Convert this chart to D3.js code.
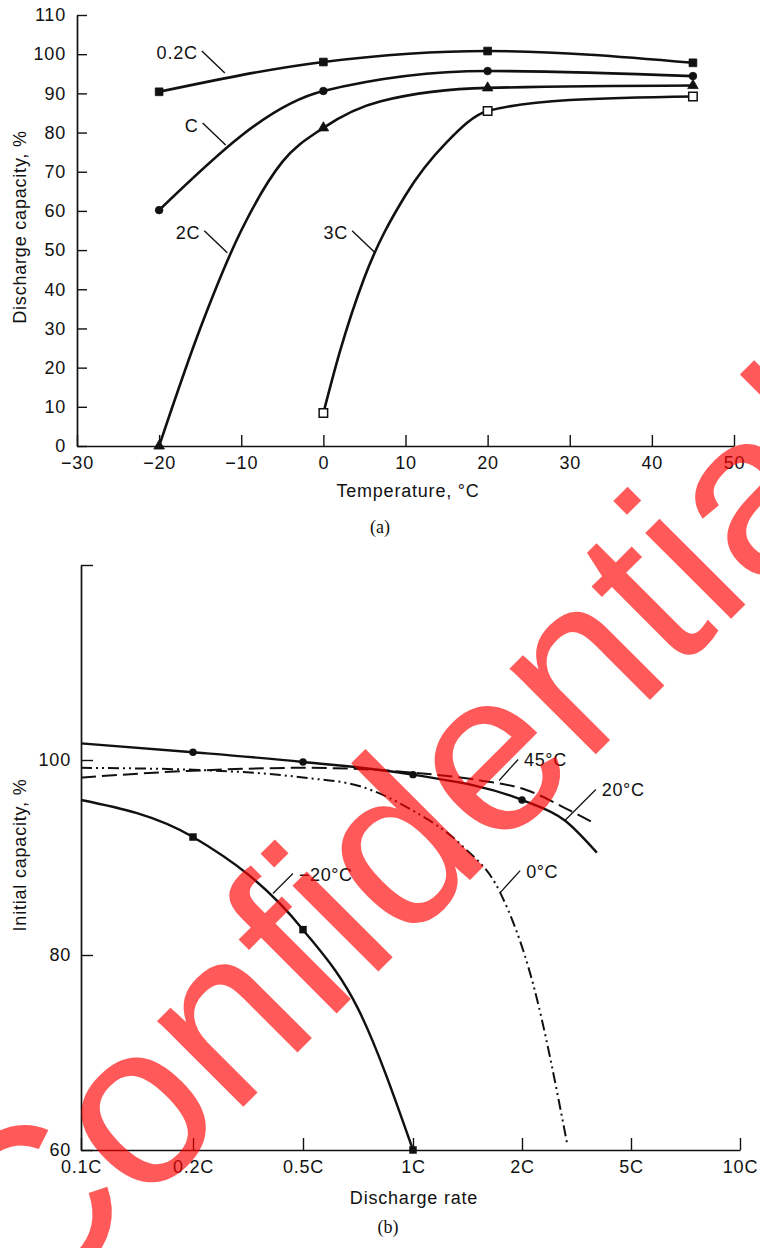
<!DOCTYPE html>
<html>
<head>
<meta charset="utf-8">
<script src="https://cdn.jsdelivr.net/npm/d3@7"></script>
<style>
  html, body { margin: 0; padding: 0; background: #fff; }
  svg text { font-family: "Liberation Sans", Arial, Helvetica, sans-serif; }
</style>
</head>
<body>
<svg id="chart" width="760" height="1248"></svg>
<script>
// ---------- Panel (a): discharge capacity vs temperature ----------
const tempTicks = [-30, -20, -10, 0, 10, 20, 30, 40, 50];
const capTicks = [0, 10, 20, 30, 40, 50, 60, 70, 80, 90, 100, 110];

// measured points (temperature °C, capacity %), one marker each
const series02C = [[-20, 90.4], [0, 98.0], [20, 100.8], [45, 97.8]];
const seriesC   = [[-20, 60.2], [0, 90.6], [20, 95.7], [45, 94.4]];
const series2C  = [[-20, 0], [0, 81.2], [20, 91.4], [45, 92.0]];
const series3C  = [[0, 8.4], [20, 85.5], [45, 89.2]];

// extra readings along the steep parts of the 2C and 3C curves (no markers)
const trace2C = [[-15, 30], [-10, 55], [-5, 72.5], [7, 88]];
const trace3C = [[2, 24], [5, 43], [10, 64], [15, 77.5], [30, 88.3]];

// ---------- Panel (b): initial capacity vs discharge rate ----------
const rateTicks = [0.1, 0.2, 0.5, 1, 2, 5, 10];
const initTicks = [60, 80, 100, 120];
const markedRates = [0.2, 0.5, 1, 2];

// curves (discharge rate C, capacity %)
const curve45 = [[0.1, 98.2], [0.2, 98.9], [0.5, 99.2], [1, 98.7], [1.62, 97.9], [2.14, 96.9], [3.17, 95.1], [3.95, 93.6]];
const curve20 = [[0.1, 101.7], [0.2, 100.8], [0.5, 99.8], [1, 98.5], [2, 95.9], [3.18, 93.8], [4.06, 90.5]];
const curve0  = [[0.1, 99.2], [0.2, 99.0], [0.5, 98.2], [0.76, 97.3], [1, 94.8], [1.44, 91.3], [1.8, 86.4], [2.3, 77.1], [3.24, 60.7]];
const curveM20 = [[0.1, 95.9], [0.2, 92.1], [0.5, 82.6], [0.75, 74.5], [1, 60]];

const svg = d3.select("#chart");
const FS = 18;

function styleAxis(g) {
  g.attr("font-size", FS).attr("font-family", null).attr("fill", "#111");
  g.select(".domain").attr("stroke", "#111").attr("stroke-width", 1.7);
  g.selectAll(".tick line").attr("stroke", "#111").attr("stroke-width", 1.4);
  g.selectAll(".tick text").attr("fill", "#111").style("letter-spacing", "0.8px");
}

// ===== Panel (a) =====
const xT = d3.scaleLinear().domain([-30, 50]).range([77, 734]);
const yT = d3.scaleLinear().domain([0, 110]).range([446, 15]);

svg.append("g")
  .attr("transform", `translate(0,${yT(0)})`)
  .call(d3.axisBottom(xT).tickValues(tempTicks).tickSizeInner(-11).tickSizeOuter(0).tickPadding(10))
  .call(styleAxis);

svg.append("g")
  .attr("transform", `translate(${xT(-30)},0)`)
  .call(d3.axisLeft(yT).tickValues(capTicks).tickSizeInner(-10).tickSizeOuter(0).tickPadding(11))
  .call(styleAxis);

const lineT = d3.line().x(d => xT(d[0])).y(d => yT(d[1])).curve(d3.curveMonotoneX);
const merge = (a, b) => a.concat(b).sort((p, q) => p[0] - q[0]);

const topCurves = [
  { pts: series02C, path: series02C, sym: d3.symbolSquare, size: 60, open: false },
  { pts: seriesC, path: seriesC, sym: d3.symbolCircle, size: 46, open: false },
  { pts: series2C, path: merge(series2C, trace2C), sym: d3.symbolTriangle, size: 48, open: false },
  { pts: series3C, path: merge(series3C, trace3C), sym: d3.symbolSquare, size: 72, open: true }
];

const gTop = svg.append("g");
topCurves.forEach(c => {
  gTop.append("path").attr("d", lineT(c.path))
    .attr("fill", "none").attr("stroke", "#111").attr("stroke-width", 2.6)
    .attr("stroke-linejoin", "round");
});
topCurves.forEach(c => {
  gTop.selectAll(null).data(c.pts).enter().append("path")
    .attr("transform", d => `translate(${xT(d[0])},${yT(d[1])})`)
    .attr("d", d3.symbol(c.sym, c.size))
    .attr("fill", c.open ? "#fff" : "#111")
    .attr("stroke", "#111").attr("stroke-width", c.open ? 1.5 : 0.8);
});

// curve labels with leader lines; "at" is the point where the leader meets the curve
const topLabels = [
  { text: "0.2C", at: [-12.0, 95.2] },
  { text: "C",    at: [-11.9, 76.8] },
  { text: "2C",   at: [-11.7, 49.3] },
  { text: "3C",   at: [6.3, 49.3] }
];
topLabels.forEach(l => {
  const ex = xT(l.at[0]), ey = yT(l.at[1]);
  const sx = ex - 23, sy = ey - 22;
  gTop.append("line").attr("x1", sx).attr("y1", sy).attr("x2", ex).attr("y2", ey)
    .attr("stroke", "#111").attr("stroke-width", 1.4);
  gTop.append("text").attr("x", sx - 4).attr("y", sy + 8.5)
    .attr("text-anchor", "end").attr("font-size", FS).attr("fill", "#111")
    .style("letter-spacing", "0.8px").text(l.text);
});

svg.append("text").attr("x", 408).attr("y", 497).attr("text-anchor", "middle")
  .attr("font-size", FS).attr("fill", "#111").style("letter-spacing", "0.8px")
  .text("Temperature, °C");
svg.append("text").attr("transform", "translate(26,227) rotate(-90)").attr("text-anchor", "middle")
  .attr("font-size", FS).attr("fill", "#111").style("letter-spacing", "0.8px")
  .text("Discharge capacity, %");
svg.append("text").attr("x", 380).attr("y", 533).attr("text-anchor", "middle")
  .attr("font-size", 18).attr("fill", "#111")
  .style("font-family", "'Liberation Serif', 'Times New Roman', serif")
  .text("(a)");

// ===== Panel (b) =====
const xB = d3.scaleLinear().domain(rateTicks).range([81, 193, 303, 413, 522, 631, 740]);
const yB = d3.scaleLinear().domain([60, 120]).range([1150, 565]);

svg.append("g")
  .attr("transform", `translate(0,${yB(60)})`)
  .call(d3.axisBottom(xB).tickValues(rateTicks).tickFormat(d => d + "C")
    .tickSizeInner(-12).tickSizeOuter(0).tickPadding(10))
  .call(styleAxis);

svg.append("g")
  .attr("transform", `translate(${xB(0.1)},0)`)
  .call(d3.axisLeft(yB).tickValues(initTicks).tickFormat(d => d === 120 ? "" : d)
    .tickSizeInner(-12).tickSizeOuter(0).tickPadding(10))
  .call(styleAxis);

const lineB = d3.line().x(d => xB(d[0])).y(d => yB(d[1])).curve(d3.curveMonotoneX);

const bottomCurves = [
  { pts: curveM20, dash: null, sym: d3.symbolSquare, size: 56, width: 2.4 },
  { pts: curve0, dash: "11,4,2,4,2,4", sym: null, width: 2.0 },
  { pts: curve45, dash: "15,6", sym: null, width: 2.0 },
  { pts: curve20, dash: null, sym: d3.symbolCircle, size: 44, width: 2.4 }
];
const gBot = svg.append("g");
bottomCurves.forEach(c => {
  gBot.append("path").attr("d", lineB(c.pts))
    .attr("fill", "none").attr("stroke", "#111").attr("stroke-width", c.width)
    .attr("stroke-dasharray", c.dash);
});
bottomCurves.filter(c => c.sym).forEach(c => {
  gBot.selectAll(null).data(c.pts.filter(d => markedRates.includes(d[0]))).enter().append("path")
    .attr("transform", d => `translate(${xB(d[0])},${yB(d[1])})`)
    .attr("d", d3.symbol(c.sym, c.size)).attr("fill", "#111");
});

const bottomLabels = [
  { text: "\u221220°C", at: [0.418, 86.3], dx: 20, dy: -20 },
  { text: "0°C",        at: [1.8, 86.4],   dx: 20, dy: -22 },
  { text: "45°C",       at: [1.79, 97.9],  dx: 19, dy: -21 },
  { text: "20°C",       at: [3.18, 93.8],  dx: 31, dy: -31 }
];
bottomLabels.forEach(l => {
  const ex = xB(l.at[0]), ey = yB(l.at[1]);
  const sx = ex + l.dx, sy = ey + l.dy;
  gBot.append("line").attr("x1", sx).attr("y1", sy).attr("x2", ex).attr("y2", ey)
    .attr("stroke", "#111").attr("stroke-width", 1.3);
  gBot.append("text").attr("x", sx + 6).attr("y", sy + 7)
    .attr("font-size", FS).attr("fill", "#111").style("letter-spacing", "0.6px").text(l.text);
});

svg.append("text").attr("x", 414).attr("y", 1204).attr("text-anchor", "middle")
  .attr("font-size", FS).attr("fill", "#111").style("letter-spacing", "0.8px")
  .text("Discharge rate");
svg.append("text").attr("transform", "translate(26,855) rotate(-90)").attr("text-anchor", "middle")
  .attr("font-size", FS).attr("fill", "#111").style("letter-spacing", "0.8px")
  .text("Initial capacity, %");
svg.append("text").attr("x", 388).attr("y", 1233).attr("text-anchor", "middle")
  .attr("font-size", 18).attr("fill", "#111")
  .style("font-family", "'Liberation Serif', 'Times New Roman', serif")
  .text("(b)");

// ===== watermark =====
svg.append("text")
  .attr("transform", "translate(24,1326) rotate(-45)")
  .attr("font-size", 230)
  .attr("fill", "rgb(255,0,0)").attr("fill-opacity", 0.65)
  .text("Confidential");
</script>
</body>
</html>
